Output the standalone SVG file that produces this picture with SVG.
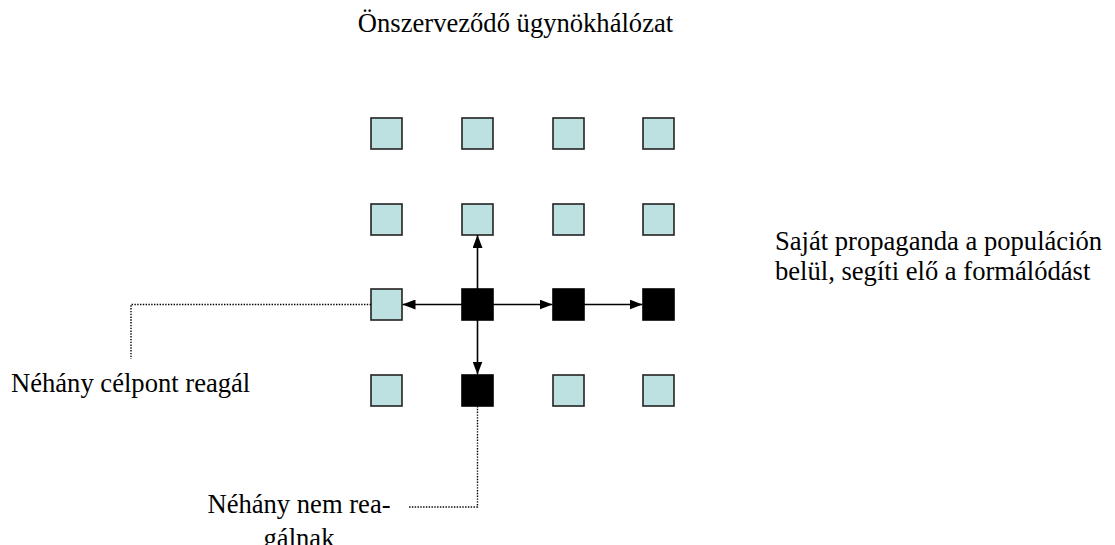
<svg xmlns="http://www.w3.org/2000/svg" width="1115" height="545" viewBox="0 0 1115 545">
<defs>
<style>
text{font-family:'Liberation Serif','Times New Roman','DejaVu Serif',serif;font-size:26.6px;fill:#000}
.lb{fill:#bde0e1;stroke:#222;stroke-width:1.6}
.bk{fill:#000;stroke:#000;stroke-width:1.6}
.ar{stroke:#000;stroke-width:1.6;fill:none;marker-end:url(#ah)}
.dt{stroke:#000;stroke-width:1.4;fill:none;stroke-dasharray:1.4 1.4}
</style>
<marker id="ah" viewBox="0 0 13 10" refX="13" refY="5" markerWidth="13" markerHeight="10" markerUnits="userSpaceOnUse" orient="auto">
<path d="M0,0 L13,5 L0,10 Z" fill="#000"/>
</marker>
</defs>
<rect width="1115" height="545" fill="#fff"/>
<g id="title"><text x="515.5" y="32" text-anchor="middle">Önszerveződő ügynökhálózat</text></g>
<g id="nodes">
<rect id="n11" class="lb" x="371" y="118" width="31" height="31"/>
<rect id="n12" class="lb" x="462" y="118" width="31" height="31"/>
<rect id="n13" class="lb" x="553" y="118" width="31" height="31"/>
<rect id="n14" class="lb" x="643" y="118" width="31" height="31"/>
<rect id="n21" class="lb" x="371" y="204" width="31" height="31"/>
<rect id="n22" class="lb" x="462" y="204" width="31" height="31"/>
<rect id="n23" class="lb" x="553" y="204" width="31" height="31"/>
<rect id="n24" class="lb" x="643" y="204" width="31" height="31"/>
<rect id="n31" class="lb" x="371" y="289" width="31" height="31"/>
<rect id="n32" class="bk" x="462" y="289" width="31" height="31"/>
<rect id="n33" class="bk" x="553" y="289" width="31" height="31"/>
<rect id="n34" class="bk" x="643" y="289" width="31" height="31"/>
<rect id="n41" class="lb" x="371" y="375" width="31" height="31"/>
<rect id="n42" class="bk" x="462" y="375" width="31" height="31"/>
<rect id="n43" class="lb" x="553" y="375" width="31" height="31"/>
<rect id="n44" class="lb" x="643" y="375" width="31" height="31"/>
</g>
<g id="connectors">
<line class="ar" x1="477.5" y1="289" x2="477.5" y2="235"/>
<line class="ar" x1="462" y1="304.5" x2="402.5" y2="304.5"/>
<line class="ar" x1="493" y1="304.5" x2="552.5" y2="304.5"/>
<line class="ar" x1="477.5" y1="320" x2="477.5" y2="374.5"/>
<line class="ar" x1="584" y1="304.5" x2="642.5" y2="304.5"/>
<polyline class="dt" points="371,304.5 131,304.5 131,359"/>
<polyline class="dt" points="477.5,406 477.5,507 408,507"/>
</g>
<g id="label-left"><text x="11" y="392">Néhány célpont reagál</text></g>
<g id="label-bottom"><text text-anchor="middle"><tspan x="299" y="513">Néhány nem rea-</tspan><tspan x="299" y="547">gálnak</tspan></text></g>
<g id="label-right"><text><tspan x="775" y="250">Saját propaganda a populáción</tspan><tspan x="775" y="280">belül, segíti elő a formálódást</tspan></text></g>
</svg>
